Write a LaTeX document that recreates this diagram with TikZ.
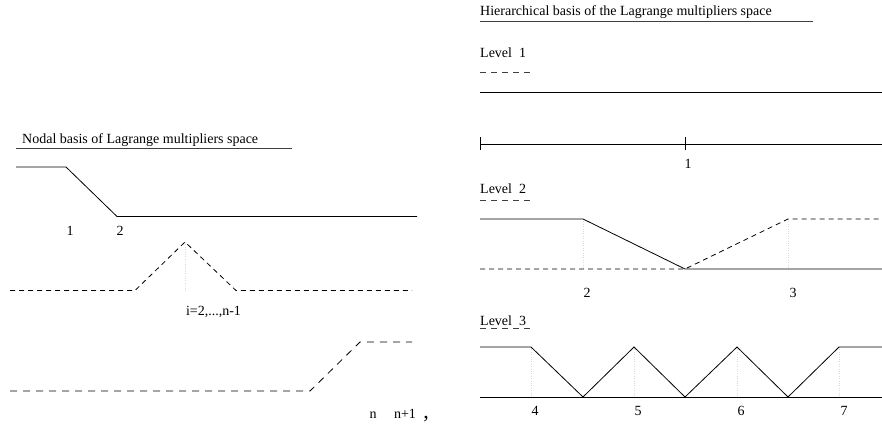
\documentclass[tikz,border=0pt]{standalone}
\usepackage{fontspec}
\setmainfont{Liberation Serif}
\usepackage{tikz}
\usetikzlibrary{calc}

\begin{document}
\begin{tikzpicture}[
  x=1pt, y=-1pt,
  lbl/.style={inner sep=0pt, anchor=base, font=\fontsize{14}{16}\selectfont},
  ttl/.style={inner sep=0pt, anchor=base west, font=\fontsize{14}{16}\selectfont},
  basis/.style={draw=black, line width=0.8pt},
  dbasis/.style={basis, dash pattern=on 5pt off 4pt},
  lbasis/.style={basis, dash pattern=on 7pt off 6pt},
  guide/.style={draw=black!15, line width=0.4pt, dotted},
  rule/.style={draw=black!75, line width=1pt},
  lrule/.style={rule, dash pattern=on 6pt off 5pt}
]
\useasboundingbox (0,0) rectangle (882,425);

% nodal basis
\node[ttl] (ntitle) at (22,143) {Nodal basis of Lagrange multipliers space};
\draw[rule] (16,148.5) -- (292,148.5);

\draw[basis] (16,167) -- (66,167) -- (117,216.5) -- (417,216.5);
\node[lbl] (n1) at (70,235) {1};
\node[lbl] (n2) at (120,235) {2};

\draw[guide] (185,242) -- (185,290.5);
\draw[dbasis] (10,290.5) -- (135,290.5) -- (185,242) -- (236,290.5) -- (412,290.5);
\node[lbl] (ni) at (213.5,315) {i=2,...,n-1};

\draw[lbasis] (10,391) -- (310,391) -- (360,342) -- (412,342);
\node[lbl] (nn) at (373,418) {n};
\node[lbl] (nn1) at (405,418) {n+1};
\node[lbl, font=\fontsize{22}{24}\selectfont] (comma) at (426,418) {,};

% hierarchical basis
\node[ttl] (htitle) at (480,16) {Hierarchical basis of the Lagrange multipliers space};
\draw[rule] (480,22) -- (813,22);

% level 1
\node[ttl] (lev1) at (480,58) {Level~~1};
\draw[lrule] (480,72.5) -- (532,72.5);
\draw[basis] (480,92) -- (882,92);
\draw[basis] (480,144) -- (882,144);
\draw[basis] (480,137) -- (480,150);
\draw[basis] (685,137) -- (685,150);
\node[lbl] (h1) at (688,168) {1};

% level 2
\node[ttl] (lev2) at (480,193) {Level~~2};
\draw[lrule] (480,200) -- (532,200);
\draw[guide] (583,219) -- (583,269);
\draw[guide] (788,219) -- (788,269);
\draw[basis] (480,219) -- (583,219) -- (685,269) -- (882,269);
\draw[dbasis] (480,269) -- (685,269) -- (788,219) -- (882,219);
\node[lbl] (h2) at (587,297) {2};
\node[lbl] (h3) at (793,297) {3};

% level 3
\node[ttl] (lev3) at (480,325) {Level~~3};
\draw[lrule] (480,328.5) -- (532,328.5);
\foreach \xg in {531,634,737,839}
  \draw[guide] (\xg,347) -- (\xg,397);
\draw[basis] (480,397) -- (882,397);
\draw[basis] (480,347) -- (531,347) -- (583,397) -- (634,347) -- (685,397)
  -- (737,347) -- (788,397) -- (839,347) -- (882,347);
\foreach \xl/\nm in {535/4,638/5,741/6,844/7}
  \node[lbl] (h\nm) at (\xl,415) {\nm};

\end{tikzpicture}
\end{document}
